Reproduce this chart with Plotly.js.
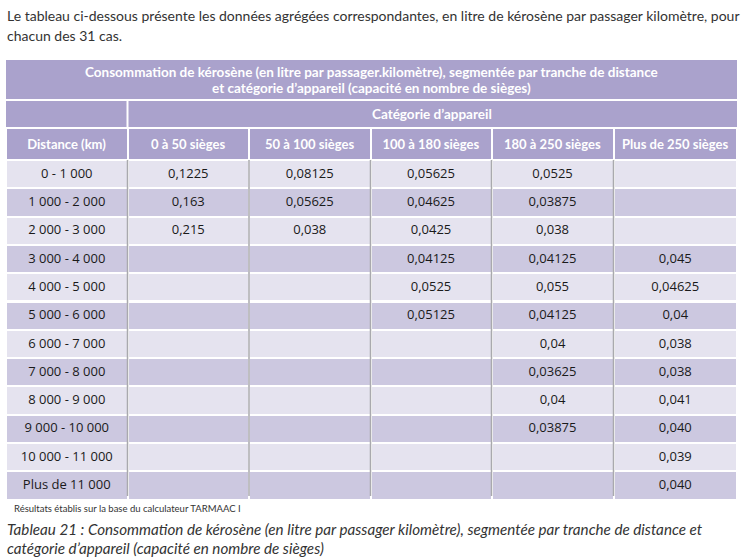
<!DOCTYPE html>
<html>
<head>
<meta charset="utf-8">
<script src="https://cdn.plot.ly/plotly-3.0.1.min.js"></script>
<style>html,body{margin:0;padding:0;background:#fff;}#chart{width:741px;height:559px;}</style>
</head>
<body>
<div id="chart"></div>
<script>
// ---- data ----
var introText = ['Le tableau ci-dessous présente les données agrégées correspondantes, en litre de kérosène par passager kilomètre, pour', 'chacun des 31 cas.'];
var tableTitle = ['Consommation de kérosène (en litre par passager.kilomètre), segmentée par tranche de distance', 'et catégorie d\u2019appareil (capacité en nombre de sièges)'];
var groupHeader = 'Catégorie d\u2019appareil';
var columnHeaders = ['Distance (km)', '0 à 50 sièges', '50 à 100 sièges', '100 à 180 sièges', '180 à 250 sièges', 'Plus de 250 sièges'];
var distances = ['0 - 1 000', '1 000 - 2 000', '2 000 - 3 000', '3 000 - 4 000', '4 000 - 5 000', '5 000 - 6 000', '6 000 - 7 000', '7 000 - 8 000', '8 000 - 9 000', '9 000 - 10 000', '10 000 - 11 000', 'Plus de 11 000'];
var seats0to50 = ['0,1225', '0,163', '0,215', '', '', '', '', '', '', '', '', ''];
var seats50to100 = ['0,08125', '0,05625', '0,038', '', '', '', '', '', '', '', '', ''];
var seats100to180 = ['0,05625', '0,04625', '0,0425', '0,04125', '0,0525', '0,05125', '', '', '', '', '', ''];
var seats180to250 = ['0,0525', '0,03875', '0,038', '0,04125', '0,055', '0,04125', '0,04', '0,03625', '0,04', '0,03875', '', ''];
var seatsOver250 = ['', '', '', '0,045', '0,04625', '0,04', '0,038', '0,038', '0,041', '0,040', '0,039', '0,040'];
var sourceNote = 'Résultats établis sur la base du calculateur TARMAAC I';
var captionText = ['Tableau 21 : Consommation de kérosène (en litre par passager kilomètre), segmentée par tranche de distance et', 'catégorie d\u2019appareil (capacité en nombre de sièges)'];

// ---- styling / geometry ----
var W = 741, H = 559;
var left = 6, right = 737;
var colW = [121.5, 121.5, 121.5, 121, 122, 123.5];
var headerPurple = '#aaa2cc';
var rowLight = '#e5e3ef';
var rowDark = '#ccc8e0';
var headFont = {family: 'Lato, sans-serif', size: 13.5, color: '#ffffff', weight: 'bold'};
var colHeadFont = {family: 'Lato, sans-serif', size: 13, color: '#ffffff', weight: 'bold'};
var bodyFont = {family: 'Open Sans, sans-serif', size: 13, color: '#1a1a1a'};
var textFamily = 'Lato, sans-serif';

function py(p) { return 1 - p / H; }
function px(p) { return p / W; }

var rowFills = distances.map(function (d, i) { return i % 2 === 0 ? rowLight : rowDark; });
var cellFills = columnHeaders.map(function () { return rowFills; });
var firstColRight = left + colW[0];

var traces = [
  {
    type: 'table',
    domain: {x: [px(left), px(right)], y: [py(500), py(128)]},
    columnwidth: colW,
    header: {
      values: columnHeaders.map(function (h) { return '<b>' + h.replace(/ /g, '\u00a0') + '</b>'; }),
      height: 29, align: 'center',
      fill: {color: headerPurple},
      line: {color: '#ffffff', width: 2},
      font: colHeadFont
    },
    cells: {
      values: [distances, seats0to50, seats50to100, seats100to180, seats180to250, seatsOver250],
      height: 28.3,
      align: 'center',
      fill: {color: cellFills},
      line: {color: '#ffffff', width: 2},
      font: bodyFont
    }
  }
];

// header band backgrounds (title row and "Catégorie" row)
var shapes = [
  {type: 'rect', xref: 'paper', yref: 'paper', layer: 'below', x0: px(left), x1: px(right), y0: py(99), y1: py(60), fillcolor: headerPurple, line: {width: 0}},
  {type: 'rect', xref: 'paper', yref: 'paper', layer: 'below', x0: px(left), x1: px(firstColRight - 1), y0: py(127.5), y1: py(101), fillcolor: headerPurple, line: {width: 0}},
  {type: 'rect', xref: 'paper', yref: 'paper', layer: 'below', x0: px(firstColRight + 1), x1: px(right), y0: py(127.5), y1: py(101), fillcolor: headerPurple, line: {width: 0}}
];

var annotations = [];
// intro text
annotations.push({xref: 'paper', yref: 'paper', x: px(5), y: py(16), xanchor: 'left', yanchor: 'middle', showarrow: false, text: introText[0], font: {family: textFamily, size: 14, color: '#333333'}});
annotations.push({xref: 'paper', yref: 'paper', x: px(5), y: py(36), xanchor: 'left', yanchor: 'middle', showarrow: false, text: introText[1], font: {family: textFamily, size: 14, color: '#333333'}});
// table title
annotations.push({xref: 'paper', yref: 'paper', x: px((left + right) / 2), y: py(72), xanchor: 'center', yanchor: 'middle', showarrow: false, text: '<b>' + tableTitle[0] + '</b>', font: headFont});
annotations.push({xref: 'paper', yref: 'paper', x: px((left + right) / 2), y: py(88), xanchor: 'center', yanchor: 'middle', showarrow: false, text: '<b>' + tableTitle[1] + '</b>', font: headFont});
// group header
annotations.push({xref: 'paper', yref: 'paper', x: px((firstColRight + right) / 2), y: py(114), xanchor: 'center', yanchor: 'middle', showarrow: false, text: '<b>' + groupHeader + '</b>', font: headFont});
// vertical grey separators in body
var acc = left;
for (var i = 0; i < colW.length - 1; i++) {
  acc += colW[i];
  annotations.push({xref: 'paper', yref: 'paper', x: px(acc), y: py(496), showarrow: true, ax: 0, ay: -338, arrowhead: 0, arrowwidth: 1.5, arrowcolor: '#a9a9ad', standoff: 0, startstandoff: 0, text: ' ', font: {size: 1}});
}
// source note
annotations.push({xref: 'paper', yref: 'paper', x: px(12), y: py(508), xanchor: 'left', yanchor: 'middle', showarrow: false, text: sourceNote, font: {family: textFamily, size: 9.5, color: '#333333'}});
// caption
annotations.push({xref: 'paper', yref: 'paper', x: px(5), y: py(529), xanchor: 'left', yanchor: 'middle', showarrow: false, text: '<i>' + captionText[0] + '</i>', font: {family: textFamily, size: 15.2, color: '#333333'}});
annotations.push({xref: 'paper', yref: 'paper', x: px(5), y: py(548), xanchor: 'left', yanchor: 'middle', showarrow: false, text: '<i>' + captionText[1] + '</i>', font: {family: textFamily, size: 15.2, color: '#333333'}});

var layout = {
  width: W, height: H,
  margin: {l: 0, r: 0, t: 0, b: 0},
  paper_bgcolor: '#ffffff',
  showlegend: false,
  shapes: shapes,
  annotations: annotations
};

Plotly.newPlot('chart', traces, layout, {displayModeBar: false});
</script>
</body>
</html>
